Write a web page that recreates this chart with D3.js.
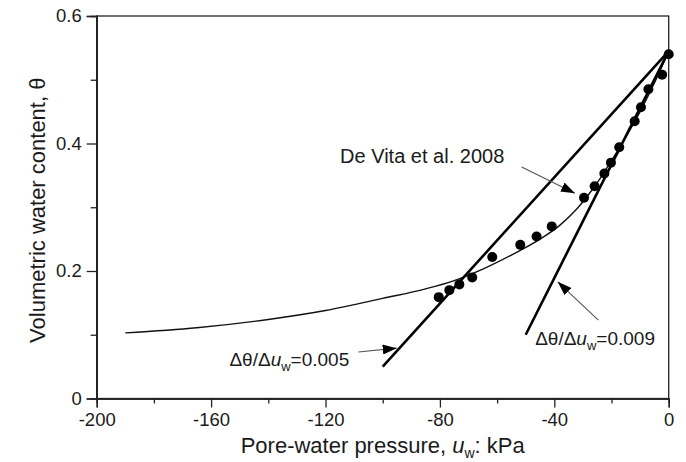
<!DOCTYPE html>
<html>
<head>
<meta charset="utf-8">
<script src="https://cdn.jsdelivr.net/npm/d3@7"></script>
<style>
  body { margin: 0; background: #fff; }
  svg { font-family: "Liberation Sans", Arial, sans-serif; }
</style>
</head>
<body>
<div id="chart"></div>
<script>
// Measured points: pore-water pressure (kPa) and volumetric water content
var pressure = [0, -2.3, -7.1, -9.7, -11.9, -17.3, -20.2, -22.5, -25.9, -29.6,
  -40.9, -46.2, -51.9, -61.7, -68.7, -73.2, -76.7, -80.4];
var theta = [0.540, 0.508, 0.485, 0.457, 0.435, 0.394, 0.370, 0.353, 0.333, 0.315,
  0.270, 0.254, 0.241, 0.222, 0.190, 0.179, 0.170, 0.159];

var curvePressure = [-190, -165, -140, -120, -100, -85, -75, -65, -55, -45, -38, -32, -28, -24, -20, -15, -10, -5, 0];
var curveTheta = [0.103, 0.111, 0.124, 0.138, 0.157, 0.172, 0.185, 0.203, 0.225, 0.250, 0.272, 0.298, 0.320, 0.345, 0.373, 0.410, 0.450, 0.495, 0.545];

// Tangent lines (end points)
var line005Pressure = [-100, 0];
var line005Theta = [0.05, 0.545];
var line009Pressure = [-50, 0];
var line009Theta = [0.10, 0.545];

// Ticks
var xTicks = [-200, -160, -120, -80, -40, 0];
var xMinorTicks = [-180, -140, -100, -60, -20];
var yTicks = [0, 0.2, 0.4, 0.6];
var yMinorTicks = [0.1, 0.3, 0.5];

var svgWidth = 686;
var svgHeight = 462;
var margin = { top: 16, right: 17.3, bottom: 63.5, left: 96.7 };
var width = svgWidth - margin.left - margin.right;
var height = svgHeight - margin.top - margin.bottom;

var svg = d3.select("#chart").append("svg")
  .attr("width", svgWidth)
  .attr("height", svgHeight);

var chartGroup = svg.append("g")
  .attr("transform", `translate(${margin.left}, ${margin.top})`);

var x = d3.scaleLinear().domain([-200, 0]).range([0, width]);
var y = d3.scaleLinear().domain([0, 0.6]).range([height, 0]);

// arrow head
svg.append("defs").append("marker")
  .attr("id", "arrow")
  .attr("viewBox", "0 0 14 10")
  .attr("refX", 14).attr("refY", 5)
  .attr("markerWidth", 14).attr("markerHeight", 10)
  .attr("markerUnits", "userSpaceOnUse")
  .attr("orient", "auto")
  .append("path")
  .attr("d", "M0,0 L14,5 L0,10 Z")
  .attr("fill", "#000");

// frame
chartGroup.append("rect")
  .attr("width", width).attr("height", height)
  .attr("fill", "none").attr("stroke", "#222").attr("stroke-width", 1.3);

// axes (hyphen minus like the original)
chartGroup.append("g")
  .attr("transform", `translate(0, ${height})`)
  .call(d3.axisBottom(x).tickValues(xTicks).tickSize(9).tickPadding(5).tickFormat(d => String(d)));
chartGroup.append("g")
  .attr("transform", `translate(0, ${height})`)
  .call(d3.axisBottom(x).tickValues(xMinorTicks).tickSize(5).tickFormat(""));

chartGroup.append("g")
  .call(d3.axisLeft(y).tickValues(yTicks).tickSize(10).tickPadding(5).tickFormat(d => d === 0 ? "0" : d3.format(".1f")(d)));
chartGroup.append("g")
  .call(d3.axisLeft(y).tickValues(yMinorTicks).tickSize(6).tickFormat(""));

chartGroup.selectAll(".domain").attr("stroke", "#222").attr("stroke-width", 1.3);
chartGroup.selectAll(".tick line").attr("stroke", "#222").attr("stroke-width", 1.3);
chartGroup.selectAll(".tick text").attr("font-size", 18.5).attr("fill", "#1a1a1a")
  .attr("font-family", "Liberation Sans, Arial, sans-serif");

// axis titles
var xTitle = svg.append("text")
  .attr("x", margin.left + width / 2)
  .attr("y", 453)
  .attr("text-anchor", "middle")
  .attr("font-size", 22)
  .attr("fill", "#1a1a1a");
xTitle.append("tspan").text("Pore-water pressure, ");
xTitle.append("tspan").attr("font-style", "italic").text("u");
xTitle.append("tspan").attr("font-size", 14).attr("dy", 5).text("w");
xTitle.append("tspan").attr("dy", -5).text(": kPa");

svg.append("text")
  .attr("transform", `translate(45, ${margin.top + height / 2 + 3}) rotate(-90)`)
  .attr("text-anchor", "middle")
  .attr("font-size", 22)
  .attr("fill", "#1a1a1a")
  .text("Volumetric water content, θ");

var lineGen = d3.line().x(d => x(d[0])).y(d => y(d[1]));

// De Vita curve
chartGroup.append("path")
  .datum(d3.zip(curvePressure, curveTheta))
  .attr("d", lineGen.curve(d3.curveMonotoneX))
  .attr("fill", "none").attr("stroke", "#111").attr("stroke-width", 1.4);

lineGen.curve(d3.curveLinear);

// tangent lines
chartGroup.append("path")
  .datum(d3.zip(line005Pressure, line005Theta))
  .attr("d", lineGen)
  .attr("fill", "none").attr("stroke", "#000").attr("stroke-width", 2.6);
chartGroup.append("path")
  .datum(d3.zip(line009Pressure, line009Theta))
  .attr("d", lineGen)
  .attr("fill", "none").attr("stroke", "#000").attr("stroke-width", 2.6);

// measured points
chartGroup.selectAll("circle")
  .data(d3.zip(pressure, theta))
  .enter()
  .append("circle")
  .attr("cx", d => x(d[0]))
  .attr("cy", d => y(d[1]))
  .attr("r", 5)
  .attr("fill", "#000");

// annotation arrows
function arrow(u1, t1, u2, t2) {
  chartGroup.append("line")
    .attr("x1", x(u1)).attr("y1", y(t1))
    .attr("x2", x(u2)).attr("y2", y(t2))
    .attr("stroke", "#555").attr("stroke-width", 1.1)
    .attr("marker-end", "url(#arrow)");
}
arrow(-51.4, 0.363, -32.8, 0.322);
arrow(-24.6, 0.123, -38.8, 0.183);
arrow(-108.5, 0.073, -95.1, 0.079);

// annotation labels
chartGroup.append("text")
  .attr("x", x(-114.9)).attr("y", y(0.369))
  .attr("font-size", 20).attr("fill", "#1a1a1a")
  .text("De Vita et al. 2008");

function slopeLabel(u, t, value) {
  var label = chartGroup.append("text")
    .attr("x", x(u)).attr("y", y(t))
    .attr("font-size", 19).attr("fill", "#1a1a1a");
  label.append("tspan").text("Δθ/Δ");
  label.append("tspan").attr("font-style", "italic").text("u");
  label.append("tspan").attr("font-size", 13).attr("dy", 5).text("w");
  label.append("tspan").attr("dy", -5).text("=" + value);
}
slopeLabel(-153.6, 0.051, "0.005");
slopeLabel(-46.7, 0.084, "0.009");
</script>
</body>
</html>
